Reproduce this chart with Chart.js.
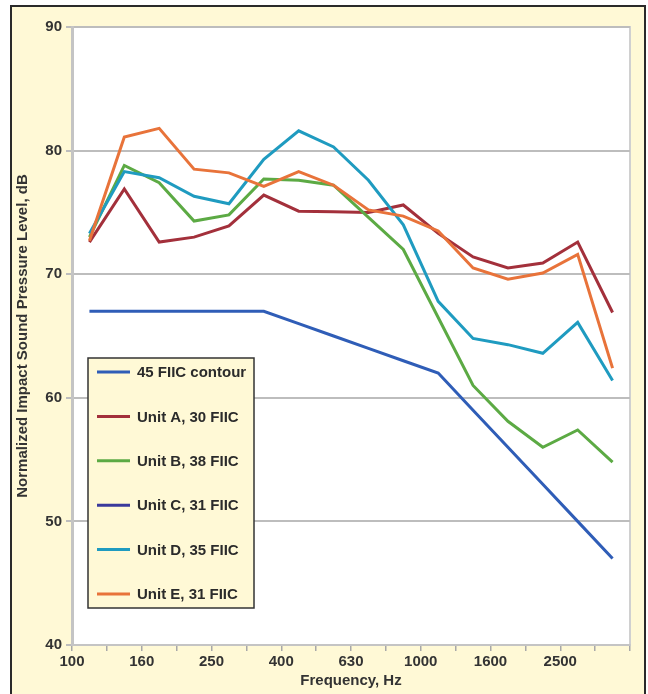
<!DOCTYPE html>
<html>
<head>
<meta charset="utf-8">
<script src="https://cdn.jsdelivr.net/npm/chart.js@4/dist/chart.umd.min.js"></script>
<style>
  body { margin: 0; background: #fff; }
  #wrap { width: 648px; height: 694px; }
</style>
</head>
<body>
<div id="wrap"><canvas id="myChart" width="648" height="694"></canvas></div>
<script>
// third-octave bands, 100 - 3150 Hz
const bands = ['100', '125', '160', '200', '250', '315', '400', '500', '630', '800', '1000', '1250', '1600', '2000', '2500', '3150'];

const contour45 = [67, 67, 67, 67, 67, 67, 66, 65, 64, 63, 62, 59, 56, 53, 50, 47];
const unitA = [72.6, 76.9, 72.6, 73.0, 73.9, 76.4, 75.1, 75.05, 75.0, 75.6, 73.3, 71.4, 70.5, 70.9, 72.6, 66.9];
const unitB = [73.0, 78.8, 77.4, 74.3, 74.8, 77.7, 77.6, 77.2, 74.6, 72.0, 66.5, 61.0, 58.1, 56.0, 57.4, 54.8];
const unitC = []; // no Unit C line can be seen in the picture
const unitD = [73.3, 78.3, 77.8, 76.3, 75.7, 79.3, 81.6, 80.3, 77.6, 74.0, 67.8, 64.8, 64.3, 63.6, 66.1, 61.4];
const unitE = [72.7, 81.1, 81.8, 78.5, 78.2, 77.1, 78.3, 77.2, 75.2, 74.7, 73.5, 70.5, 69.6, 70.1, 71.6, 62.4];

const seriesLabels = ['45 FIIC contour', 'Unit A, 30 FIIC', 'Unit B, 38 FIIC', 'Unit C, 31 FIIC', 'Unit D, 35 FIIC', 'Unit E, 31 FIIC'];
const seriesValues = [contour45, unitA, unitB, unitC, unitD, unitE];
const seriesColors = ['#2F5DB7', '#A3303B', '#5CAA44', '#3A3A9C', '#1F9BC0', '#E8733A'];

const cream = '#FFF9D6';
const FONT = "'Liberation Sans', Arial, sans-serif";
Chart.defaults.font.family = FONT;

// points sit in the middle of each band, labels on the band edges (as in the original)
function toXY(values) {
    return values.map((v, i) => ({ x: i + 0.5, y: v }));
}

let datasets = [];
for (let i = 0; i < seriesLabels.length; i++) {
    datasets.push({
        label: seriesLabels[i],
        data: toXY(seriesValues[i]),
        borderColor: seriesColors[i],
        backgroundColor: seriesColors[i],
        borderWidth: 3,
        pointRadius: 0,
        tension: 0,
        order: seriesLabels.length - i
    });
}

const framePlugin = {
    id: 'frame',
    beforeDraw(chart) {
        const ctx = chart.ctx;
        const a = chart.chartArea;
        ctx.save();
        ctx.fillStyle = '#fff';
        ctx.fillRect(0, 0, chart.width, chart.height);
        ctx.fillStyle = cream;
        ctx.fillRect(11, 6, 634, 700);
        ctx.strokeStyle = '#2a2a2a';
        ctx.lineWidth = 2;
        ctx.strokeRect(11, 6, 634, 700);
        ctx.fillStyle = '#fff';
        ctx.fillRect(a.left, a.top, a.right - a.left, a.bottom - a.top);
        ctx.strokeStyle = '#D0D0D0';
        ctx.lineWidth = 2;
        ctx.strokeRect(a.left, a.top, a.right - a.left, a.bottom - a.top);
        ctx.restore();
    }
};

// legend box inside the plot, lower left
const legendBox = {
    id: 'legendBox',
    afterDraw(chart) {
        const ctx = chart.ctx;
        const x0 = 88, y0 = 358, w = 166, h = 250;
        ctx.save();
        ctx.fillStyle = cream;
        ctx.fillRect(x0, y0, w, h);
        ctx.strokeStyle = '#333';
        ctx.lineWidth = 1.5;
        ctx.strokeRect(x0, y0, w, h);
        ctx.font = 'bold 15px ' + FONT;
        ctx.textBaseline = 'middle';
        chart.data.datasets.forEach((ds, i) => {
            let y = y0 + 14 + i * 44.4;
            ctx.strokeStyle = ds.borderColor;
            ctx.lineWidth = 3;
            ctx.beginPath();
            ctx.moveTo(97, y);
            ctx.lineTo(130, y);
            ctx.stroke();
            ctx.fillStyle = '#2b2b2b';
            ctx.fillText(ds.label, 137, y + 1);
        });
        ctx.restore();
    }
};

const ctx = document.getElementById('myChart').getContext('2d');
const myChart = new Chart(ctx, {
    type: 'line',
    data: { datasets: datasets },
    options: {
        responsive: false,
        animation: false,
        layout: { padding: { left: 0, top: 27, right: 18, bottom: 0 } },
        plugins: {
            legend: { display: false },
            tooltip: { enabled: false }
        },
        scales: {
            x: {
                type: 'linear',
                min: 0,
                max: 16,
                afterFit: (scale) => { scale.height = 49; },
                ticks: {
                    stepSize: 1,
                    autoSkip: false,
                    maxRotation: 0,
                    padding: 2,
                    color: '#333',
                    font: { size: 15, weight: 'bold' },
                    callback: (value) => (value % 2 === 0 && bands[value]) ? bands[value] : ''
                },
                grid: {
                    drawOnChartArea: false,
                    drawTicks: true,
                    tickLength: 6,
                    tickColor: '#A8A8A8',
                    lineWidth: 1.5
                },
                border: { color: '#C4C4C4', width: 2 },
                title: {
                    display: true,
                    text: 'Frequency, Hz',
                    color: '#333',
                    font: { size: 15, weight: 'bold' },
                    padding: { top: 0, bottom: 4 }
                }
            },
            y: {
                min: 40,
                max: 90,
                afterFit: (scale) => { scale.width = 72; },
                ticks: {
                    stepSize: 10,
                    padding: 4,
                    color: '#333',
                    font: { size: 15, weight: 'bold' }
                },
                grid: {
                    color: '#BDBDBD',
                    lineWidth: 2,
                    tickLength: 6,
                    tickColor: '#BDBDBD'
                },
                border: { color: '#C4C4C4', width: 3 },
                title: {
                    display: true,
                    text: 'Normalized Impact Sound Pressure Level, dB',
                    color: '#333',
                    font: { size: 15, weight: 'bold' },
                    padding: { top: 14, bottom: 0 }
                }
            }
        }
    },
    plugins: [framePlugin, legendBox]
});
</script>
</body>
</html>
